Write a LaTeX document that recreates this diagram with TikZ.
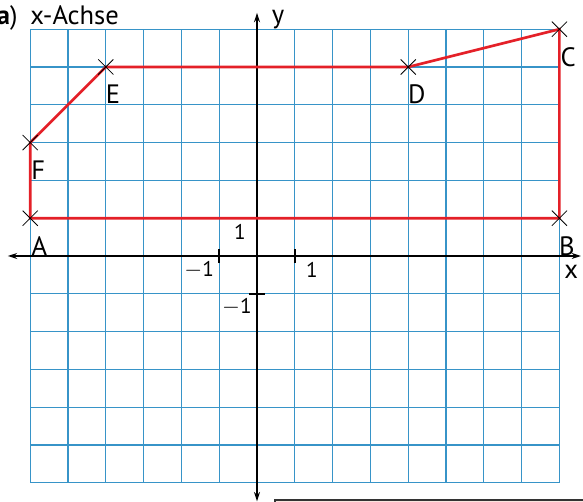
\documentclass[tikz,border=0pt]{standalone}
\usepackage{fontspec}
\setmainfont{PT Sans}
\usetikzlibrary{arrows.meta,calc}
\definecolor{gridblue}{RGB}{55,148,200}
\definecolor{polyred}{RGB}{228,32,40}
\definecolor{boxpink}{RGB}{250,228,222}
\tikzset{
  gridline/.style={draw=gridblue,line width=0.9pt},
  axisline/.style={draw=black,line width=0.8pt,{Stealth[length=7pt,width=4.5pt]}-{Stealth[length=7pt,width=4.5pt]}},
  polyline/.style={draw=polyred,line width=2pt,line join=miter},
  crossmark/.style={draw=black,line width=0.6pt},
  ptlabel/.style={font=\fontsize{20}{22}\selectfont,inner sep=0pt},
  ticklabel/.style={font=\fontsize{16}{18}\selectfont,inner sep=0pt},
  tickline/.style={draw=black,line width=1.1pt},
}
\begin{document}
\begin{tikzpicture}
\useasboundingbox (-6.799,-6.508) rectangle (8.624,6.772);
\begin{scope}
\clip (-6.799,-6.508) rectangle (8.624,6.772);
% partial box at the bottom
\draw[fill=boxpink,draw=black!80,line width=0.8pt] (0.476,-6.455) rectangle (9,-7.5);
\end{scope}
% grid
\draw[gridline] (-6,-6) grid (8,6);
% axes
\coordinate (xl) at (-6.59,0);
\coordinate (xr) at (8.57,0);
\coordinate (yb) at (0,-6.49);
\coordinate (yt) at (0,6.43);
\draw[axisline] (xl) -- (xr);
\draw[axisline] (yb) -- (yt);
% ticks
\draw[tickline] (-1,-0.19) -- (-1,0.19);
\draw[tickline] (1,-0.19) -- (1,0.19);
\draw[tickline] (-0.21,-1) -- (0.21,-1);
\node[ticklabel] (t1) at (-0.45,0.63) {1};
\node[ticklabel] (t2) at (-1.53,-0.37) {$-$1};
\node[ticklabel] (t3) at (1.455,-0.37) {1};
\node[ticklabel] (t4) at (-0.53,-1.35) {$-$1};
\node[ptlabel] (xlab) at (8.31,-0.42) {x};
\node[ptlabel] (ylab) at (0.56,6.25) {y};
% polygon
\coordinate (A) at (-6,1);
\coordinate (B) at (8,1);
\coordinate (C) at (8,6);
\coordinate (D) at (4,5);
\coordinate (E) at (-4,5);
\coordinate (F) at (-6,3);
\draw[polyline] (A) -- (B) -- (C) -- (D) -- (E) -- (F) -- cycle;
\foreach \p in {A,B,C,D,E,F}{
  \draw[crossmark] ($(\p)+(-0.2,-0.2)$) -- ($(\p)+(0.2,0.2)$);
  \draw[crossmark] ($(\p)+(-0.2,0.2)$) -- ($(\p)+(0.2,-0.2)$);
}
\node[ptlabel] (lA) at (-5.755,0.265) {A};
\node[ptlabel] (lB) at (8.2,0.265) {B};
\node[ptlabel] (lC) at (8.23,5.26) {C};
\node[ptlabel] (lD) at (4.23,4.29) {D};
\node[ptlabel] (lE) at (-3.81,4.27) {E};
\node[ptlabel] (lF) at (-5.79,2.28) {F};
% title
\node[ptlabel,anchor=base east] (ta) at (-6.33,6.12) {\textbf{a})};
\node[ptlabel,anchor=base west] (tb) at (-6.0,6.12) {x-Achse};
\end{tikzpicture}
\end{document}
